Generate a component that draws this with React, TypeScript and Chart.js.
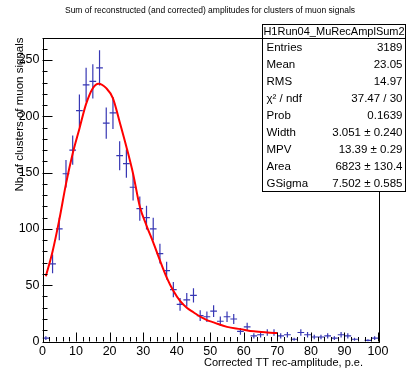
import React, { useEffect, useRef } from "react";
import { Chart, registerables } from "chart.js";

Chart.register(...registerables);

// ---- data ----
const binCenters = [
  1, 3, 5, 7, 9, 11, 13, 15, 17, 19, 21, 23, 25, 27, 29, 31, 33, 35, 37, 39,
  41, 43, 45, 47, 49, 51, 53, 55, 57, 59, 61, 63, 65, 67, 69, 71, 73, 75, 77, 79,
  81, 83, 85, 87, 89, 91, 93, 95, 97, 99,
];
const counts = [
  3, 69, 100, 149, 170, 205, 228, 231, 243, 194, 203, 165, 158, 137, 118, 110, 100, 78, 63, 46,
  33, 37, 41, 23, 22, 27, 18, 22, 20, 9, 13, 5, 6, 8, 8, 5, 6, 2, 8, 6,
  4, 4, 5, 3, 6, 5, 2, 0, 1, 3,
];
const binHalfWidth = 1;

const fitX = [1, 3, 5, 7, 9, 11, 13, 15, 16.7, 19, 21, 23, 25, 27, 29, 31, 33, 35, 37, 39, 41, 43, 45, 47, 49, 51, 55, 59, 63, 67, 70];
const fitY = [58, 80, 108, 140, 167, 189, 211, 225, 229, 225, 216, 195, 173, 149, 120, 103, 88, 72, 57, 45, 36, 30, 26, 22, 19, 17, 13, 11, 9, 8, 7.5];

const xTickValues = [0, 10, 20, 30, 40, 50, 60, 70, 80, 90, 100];
const yTickValues = [0, 50, 100, 150, 200, 250];
const xMinorStep = 2;
const yMinorStep = 10;

const chartTitle = "Sum of reconstructed (and corrected) amplitudes for clusters of muon signals";
const xTitle = "Corrected TT rec-amplitude, p.e.";
const yTitle = "Nb of clusters of muon signals";

const statsHeader = "H1Run04_MuRecAmplSum2";
const statLabels = ["Entries", "Mean", "RMS", "χ² / ndf", "Prob", "Width", "MPV", "Area", "GSigma"];
const statValues = ["3189", "23.05", "14.97", "37.47 / 30", "0.1639", "3.051 ± 0.240", "13.39 ± 0.29", "6823 ± 130.4", "7.502 ± 0.585"];

const FONT = "'Liberation Sans', Arial, Helvetica, sans-serif";
const BLUE = "rgb(55,55,180)";

const rootPlugin = {
  id: "rootDecor",
  afterDatasetsDraw(chart: any) {
    const ctx = chart.ctx;
    const { left, right, top, bottom } = chart.chartArea;
    const xs = chart.scales.x;
    const ys = chart.scales.y;
    ctx.save();
    ctx.strokeStyle = "#000";
    ctx.lineWidth = 1;
    ctx.strokeRect(Math.round(left) + 0.5, Math.round(top) + 0.5, Math.round(right - left), Math.round(bottom - top));
    ctx.beginPath();
    for (let v = xs.min; v <= xs.max + 1e-9; v += xMinorStep) {
      const px = Math.round(xs.getPixelForValue(v)) + 0.5;
      const major = xTickValues.includes(Math.round(v));
      const len = major ? 9 : 4.5;
      ctx.moveTo(px, bottom);
      ctx.lineTo(px, bottom - len);
    }
    for (let v = 0; v <= ys.max + 1e-9; v += yMinorStep) {
      const py = Math.round(ys.getPixelForValue(v)) + 0.5;
      const major = yTickValues.includes(Math.round(v));
      const len = major ? 10 : 5;
      ctx.moveTo(left, py);
      ctx.lineTo(left + len, py);
    }
    ctx.stroke();
    ctx.restore();
  },
  afterDraw(chart: any) {
    const ctx = chart.ctx;
    const { top } = chart.chartArea;
    ctx.save();
    ctx.fillStyle = "#000";
    ctx.font = `8.5px ${FONT}`;
    ctx.textAlign = "center";
    ctx.textBaseline = "middle";
    ctx.fillText(chartTitle, 210, 11);
    ctx.font = `11px ${FONT}`;
    ctx.textAlign = "right";
    ctx.fillText(xTitle, 363, 363);
    ctx.save();
    ctx.font = `11.5px ${FONT}`;
    ctx.translate(20, top);
    ctx.rotate(-Math.PI / 2);
    ctx.textAlign = "right";
    ctx.textBaseline = "middle";
    ctx.fillText(yTitle, 0, 0);
    ctx.restore();

    const bx = 262.5, by = 24.5, bw = 143, bh = 167;
    ctx.fillStyle = "#fff";
    ctx.fillRect(bx, by, bw, bh);
    ctx.strokeStyle = "#000";
    ctx.lineWidth = 1;
    ctx.strokeRect(bx, by, bw, bh);
    const sepY = Math.round(top) + 0.5;
    ctx.beginPath();
    ctx.moveTo(bx, sepY);
    ctx.lineTo(bx + bw, sepY);
    ctx.stroke();
    ctx.fillStyle = "#000";
    ctx.font = `11px ${FONT}`;
    ctx.textAlign = "center";
    ctx.textBaseline = "middle";
    ctx.fillText(statsHeader, bx + bw / 2, (by + sepY) / 2 + 0.5);
    const rowH = (by + bh - sepY) / statLabels.length;
    ctx.font = `11.5px ${FONT}`;
    for (let i = 0; i < statLabels.length; i++) {
      const cy = sepY + rowH * (i + 0.5) + 1;
      ctx.textAlign = "left";
      ctx.fillText(statLabels[i], bx + 4, cy);
      ctx.textAlign = "right";
      ctx.fillText(statValues[i], bx + bw - 3, cy);
    }
    ctx.restore();
  },
};

export default function App() {
  const canvasRef = useRef<HTMLCanvasElement | null>(null);

  useEffect(() => {
    const canvas = canvasRef.current;
    if (!canvas) return;

    const errData: any[] = [];
    for (let i = 0; i < binCenters.length; i++) {
      const c = binCenters[i];
      const n = counts[i];
      if (n <= 0) continue;
      const e = Math.sqrt(n);
      errData.push({ x: c - binHalfWidth, y: n }, { x: c + binHalfWidth, y: n }, { x: c, y: null });
      errData.push({ x: c, y: n - e }, { x: c, y: n + e }, { x: c, y: null });
    }
    const fitData = fitX.map((x, i) => ({ x, y: fitY[i] }));

    const chart = new Chart(canvas, {
      type: "line",
      data: {
        datasets: [
          {
            data: errData,
            borderColor: BLUE,
            borderWidth: 1.2,
            pointRadius: 0,
            spanGaps: false,
            tension: 0,
            order: 2,
          },
          {
            data: fitData,
            borderColor: "rgb(255,0,0)",
            borderWidth: 2,
            pointRadius: 0,
            cubicInterpolationMode: "monotone",
            order: 1,
          },
        ],
      },
      options: {
        animation: false,
        responsive: false,
        maintainAspectRatio: false,
        events: [],
        layout: { padding: { top: 37.5, right: 33, left: 0, bottom: 0 } },
        plugins: { legend: { display: false }, tooltip: { enabled: false }, title: { display: false } },
        scales: {
          x: {
            type: "linear",
            min: 0,
            max: 100,
            grid: { display: false, drawTicks: false },
            border: { display: false },
            ticks: { font: { family: FONT, size: 12.5 }, color: "#000", padding: 3, maxRotation: 0, autoSkip: false },
            afterBuildTicks: (s: any) => {
              s.ticks = xTickValues.map((v) => ({ value: v }));
            },
            afterFit: (s: any) => {
              s.height = 28.5;
            },
          },
          y: {
            type: "linear",
            min: 0,
            max: 270,
            grid: { display: false, drawTicks: false },
            border: { display: false },
            ticks: { font: { family: FONT, size: 12.5 }, color: "#000", padding: 3, autoSkip: false },
            afterBuildTicks: (s: any) => {
              s.ticks = yTickValues.map((v) => ({ value: v }));
            },
            afterFit: (s: any) => {
              s.width = 42.5;
            },
          },
        },
      },
      plugins: [rootPlugin],
    } as any);

    return () => chart.destroy();
  }, []);

  return (
    <div style={{ position: "fixed", left: 0, top: 0, width: 411, height: 370, background: "#fff" }}>
      <canvas ref={canvasRef} width={411} height={370} style={{ width: 411, height: 370, display: "block" }} />
    </div>
  );
}
